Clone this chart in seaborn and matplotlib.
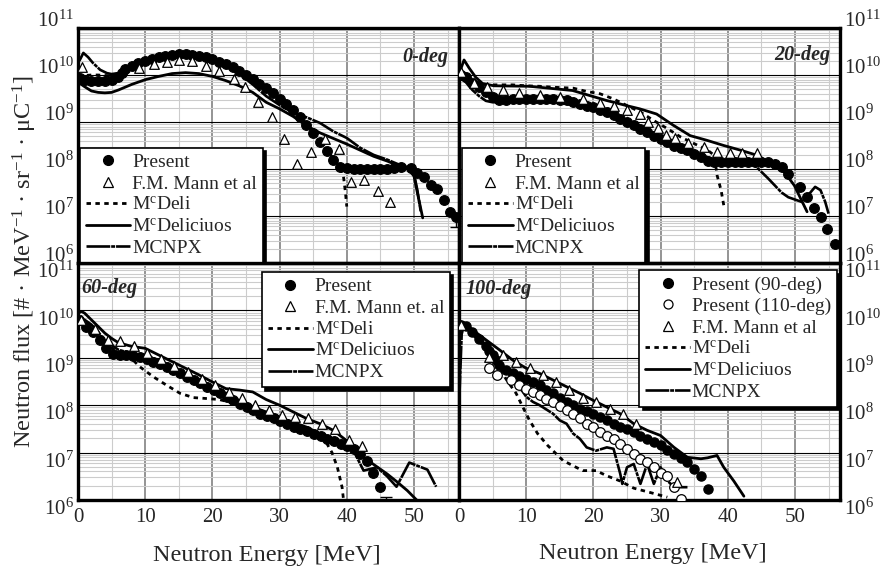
import numpy as np
import matplotlib
matplotlib.use("Agg")
import matplotlib.pyplot as plt
import seaborn as sns
from matplotlib.lines import Line2D
from matplotlib.ticker import MultipleLocator, LogLocator, LogFormatterMathtext, NullFormatter
from matplotlib.transforms import ScaledTranslation

# ---- 0-deg ----
p0_e = [0.3, 1, 2, 3, 4, 5, 6, 6.5, 7, 8, 9, 10, 11, 12, 13, 14, 15, 16, 17, 18, 19, 20, 21, 22, 23,
        24, 25, 26, 27, 28, 29, 30, 31, 32, 33, 34, 35, 36, 37, 38, 39, 40, 41, 42, 43, 44, 45, 46,
        47, 48, 49.5, 50.5, 51.5, 52.5, 53.4, 54.4, 55.4, 56.3]
p0_l = [9.93, 9.90, 9.88, 9.87, 9.87, 9.89, 9.95, 10.05, 10.12, 10.2, 10.26, 10.3, 10.34, 10.38, 10.41,
        10.43, 10.44, 10.44, 10.43, 10.41, 10.38, 10.34, 10.28, 10.23, 10.16, 10.09, 10.0, 9.92, 9.81,
        9.72, 9.61, 9.49, 9.39, 9.26, 9.11, 8.93, 8.76, 8.58, 8.38, 8.19, 8.05, 8.03, 8.01, 8.01, 8.0,
        8.0, 8.01, 8.0, 8.03, 8.05, 8.02, 7.91, 7.83, 7.66, 7.57, 7.34, 7.09, 6.98]
m0_e = [0.6, 9.1, 11.3, 13.3, 15.0, 17.0, 19.0, 21.0, 23.2, 24.9, 26.8, 28.8, 30.7, 32.6, 34.7, 36.8,
        38.9, 40.6, 42.5, 44.6, 46.5]
m0_l = [10.17, 10.15, 10.23, 10.27, 10.32, 10.30, 10.20, 10.09, 9.92, 9.74, 9.43, 9.10, 8.63, 8.10,
        8.36, 8.64, 8.42, 7.73, 7.76, 7.53, 7.30]
d0_e = [0, 1, 2, 3, 4, 5, 6, 7, 8, 10, 12, 14, 16, 18, 20, 22, 24, 26, 28, 30, 32, 34, 36, 38, 39,
        39.5, 39.8, 40.0]
d0_l = [9.98, 9.99, 10.0, 10.0, 9.99, 9.98, 10.02, 10.12, 10.2, 10.3, 10.38, 10.43, 10.45, 10.42, 10.35,
        10.24, 10.1, 9.92, 9.72, 9.5, 9.27, 8.95, 8.6, 8.22, 8.05, 7.85, 7.5, 7.2]
c0_e = [0, 1, 2, 3, 4, 5, 6, 7, 8, 10, 12, 14, 16, 18, 20, 22, 24, 26, 28, 30, 32, 34, 36, 38, 40,
        42, 44, 46, 48, 49, 50, 50.5, 51.3]
c0_l = [9.85, 9.75, 9.66, 9.63, 9.62, 9.63, 9.68, 9.74, 9.8, 9.9, 9.97, 10.03, 10.05, 10.03, 9.97,
        9.88, 9.77, 9.63, 9.42, 9.28, 9.12, 8.92, 8.77, 8.65, 8.53, 8.4, 8.27, 8.17, 8.05, 8.02, 7.85,
        7.5, 6.96]
n0_e = [0.2, 0.8, 1.5, 2.2, 3.3, 4.3, 5, 6, 7, 8, 10, 12, 14, 16, 18, 20, 22, 24, 26, 28, 30, 32,
        34, 36, 38, 40, 42, 44, 46, 48, 49, 50, 50.5, 51]
n0_l = [10.3, 10.47, 10.38, 10.26, 10.11, 10.04, 10.02, 10.04, 10.1, 10.16, 10.25, 10.33, 10.38, 10.39,
        10.36, 10.3, 10.18, 10.03, 9.8, 9.55, 9.36, 9.2, 9.1, 8.98, 8.8, 8.66, 8.45, 8.3, 8.2, 8.08,
        8.04, 7.9, 7.55, 7.1]

# ---- 20-deg ----
p20_e = [0.3, 1, 2, 3, 4, 5, 6, 7, 8, 9, 10, 11, 12, 13, 14, 15, 16, 17, 18, 19, 20, 21, 22, 23, 24,
         25, 26, 27, 28, 29, 30, 31, 32, 33, 34, 35, 36, 37, 38, 39, 40, 41, 42, 43, 44, 45, 46, 47,
         48, 49, 50.8, 51.8, 52.8, 53.8, 54.8, 56.0]
p20_l = [9.99, 9.95, 9.84, 9.74, 9.63, 9.53, 9.46, 9.47, 9.49, 9.5, 9.5, 9.5, 9.49, 9.49, 9.48, 9.47,
         9.46, 9.43, 9.39, 9.35, 9.31, 9.26, 9.21, 9.14, 9.07, 9.0, 8.93, 8.85, 8.78, 8.71, 8.64, 8.57,
         8.5, 8.45, 8.4, 8.32, 8.25, 8.18, 8.15, 8.15, 8.15, 8.15, 8.15, 8.15, 8.15, 8.15, 8.15, 8.11,
         8.04, 7.9, 7.62, 7.4, 7.18, 6.98, 6.72, 6.40]
m20_e = [0.3, 2.2, 4.2, 6.5, 9, 12, 15, 18.4, 21, 23, 25, 26.9, 28.2, 29.6, 30.8, 32.2, 34.1, 36.4,
         38.4, 40.4, 42.1, 44.3]
m20_l = [10.06, 9.83, 9.74, 9.69, 9.62, 9.58, 9.54, 9.49, 9.4, 9.33, 9.26, 9.17, 9.0, 8.87, 8.73, 8.66,
         8.56, 8.47, 8.36, 8.34, 8.33, 8.34]
d20_e = [0, 1, 2, 4, 6, 8, 10, 12, 14, 17, 19, 21, 23, 25, 27, 29, 31, 33, 35, 37, 38, 38.4, 39.0, 39.4]
d20_l = [9.99, 9.95, 9.88, 9.79, 9.79, 9.79, 9.77, 9.76, 9.74, 9.72, 9.65, 9.6, 9.49, 9.35, 9.21, 9.03,
         8.86, 8.68, 8.54, 8.4, 8.29, 7.87, 7.55, 7.23]
c20_e = [0.2, 0.75, 1.5, 2.5, 3.5, 5.2, 10.5, 16.9, 21.9, 24.9, 26.9, 29.4, 31.9, 34.4, 36.9, 39.4,
         41.9, 44.4, 46.9, 48.4, 49.9, 51.8]
c20_l = [10.1, 10.32, 10.15, 9.95, 9.82, 9.77, 9.76, 9.67, 9.46, 9.35, 9.28, 9.17, 8.93, 8.71, 8.61,
         8.5, 8.4, 8.29, 8.08, 7.94, 7.65, 7.09]
n20_e = [0, 1, 2, 3, 4, 5, 6, 8, 10, 14, 18, 22, 26, 30, 34, 36, 38, 40, 42, 43, 44, 45, 46, 47, 48,
         49, 50, 51, 52, 53, 53.8, 54.5, 55]
n20_l = [9.95, 9.85, 9.68, 9.55, 9.45, 9.42, 9.42, 9.44, 9.45, 9.42, 9.35, 9.2, 8.98, 8.7, 8.45, 8.3,
         8.2, 8.17, 8.15, 8.12, 8.08, 7.94, 7.8, 7.65, 7.5, 7.4, 7.35, 7.3, 7.45, 7.62, 7.55, 7.3, 7.05]

# ---- 60-deg ----
p60_e = [0.2, 1.2, 2.2, 3.2, 4.2, 5.2, 6.2, 7.2, 8.2, 9.2, 10.2, 11.2, 12.2, 13.2, 14.2, 15.2, 16.2,
         17.2, 18.2, 19.2, 20.2, 21.1, 22.1, 23.1, 24.1, 25.1, 26.1, 27.1, 28.1, 29.1, 30.1, 31.1,
         32.1, 33.1, 34.1, 35.1, 36.1, 37.1, 38.1, 39.1, 40, 41, 42, 43, 43.9, 44.9]
p60_l = [9.80, 9.66, 9.55, 9.38, 9.20, 9.09, 9.06, 9.06, 9.04, 9.02, 8.97, 8.92, 8.86, 8.81, 8.74,
         8.67, 8.6, 8.53, 8.46, 8.39, 8.32, 8.25, 8.17, 8.10, 8.03, 7.96, 7.89, 7.82, 7.77, 7.72, 7.66,
         7.61, 7.55, 7.50, 7.45, 7.40, 7.34, 7.29, 7.24, 7.19, 7.13, 7.08, 6.97, 6.83, 6.58, 6.27]
m60_e = [0.5, 2.5, 4.5, 6.3, 8.3, 10.3, 12.3, 14.3, 16.4, 18.4, 20.4, 22.4, 24.4, 26.4, 28.4, 30.3,
         32.3, 34.3, 36.3, 38.3, 40.3, 42.3]
m60_l = [9.80, 9.6, 9.38, 9.36, 9.25, 9.1, 8.97, 8.83, 8.71, 8.55, 8.42, 8.28, 8.15, 8.0, 7.9, 7.79,
         7.75, 7.72, 7.61, 7.50, 7.26, 7.13]
d60_e = [0, 2, 4, 6, 8, 9.2, 11.2, 13.2, 15.2, 17.2, 19.2, 21, 23, 25, 27, 29, 31, 33, 35, 36, 37,
         37.8, 38.6, 39.3, 39.6]
d60_l = [9.85, 9.6, 9.3, 9.12, 8.98, 8.81, 8.6, 8.42, 8.25, 8.16, 8.14, 8.12, 8.05, 7.95, 7.85, 7.73,
         7.62, 7.5, 7.4, 7.32, 7.2, 7.0, 6.69, 6.27, 5.9]
c60_e = [0, 0.5, 1, 2, 3, 4, 5, 6, 8, 10, 12, 14, 16, 18, 20, 22, 24, 26, 28, 30, 32, 34, 36, 38, 40,
         42, 44, 46, 47.5, 49, 50.4]
c60_l = [9.94, 9.98, 9.94, 9.8, 9.66, 9.52, 9.41, 9.32, 9.24, 9.2, 9.06, 8.92, 8.78, 8.64, 8.49, 8.35,
         8.32, 8.28, 8.12, 8.0, 7.86, 7.72, 7.61, 7.47, 7.25, 6.95, 6.75, 6.55, 6.38, 6.2, 6.0]
n60_e = [0, 1, 2, 3, 4, 5, 6, 8, 10, 12, 14, 16, 18, 20, 22, 24, 26, 28, 30, 32, 34, 36, 38, 40, 41,
         42.5, 44.5, 46, 47.4, 49.3, 52, 53.3]
n60_l = [9.84, 9.8, 9.7, 9.55, 9.35, 9.27, 9.17, 9.09, 9.06, 8.95, 8.81, 8.67, 8.53, 8.39, 8.25, 8.1,
         7.96, 7.86, 7.75, 7.64, 7.54, 7.4, 7.29, 7.19, 7.04, 6.62, 6.69, 6.5, 6.28, 6.79, 6.64, 6.28]

# ---- 100-deg ----
p90_e = [0.3, 1, 2, 3, 4, 4.5, 5, 5.5, 6, 7, 8, 9, 10, 11, 12, 13, 14, 15, 16, 17, 18, 19, 20, 21, 22,
         23, 24, 25, 26, 27, 28, 29, 30, 31, 32, 33, 34, 35, 36, 37]
p90_l = [9.7, 9.68, 9.55, 9.4, 9.25, 9.15, 9.05, 8.95, 8.85, 8.75, 8.67, 8.62, 8.56, 8.49, 8.42, 8.33,
         8.25, 8.16, 8.07, 8.0, 7.93, 7.88, 7.82, 7.75, 7.68, 7.61, 7.54, 7.49, 7.43, 7.36, 7.29, 7.22,
         7.15, 7.06, 6.97, 6.89, 6.8, 6.66, 6.51, 6.23]
p110_e = [4.5, 5.7, 7.7, 9, 10, 11, 12, 13, 14, 15, 16, 17, 18, 19, 20, 21, 22, 23, 24, 25, 26, 27,
          28, 29, 30, 31, 32, 33]
p110_l = [8.78, 8.64, 8.53, 8.42, 8.35, 8.28, 8.21, 8.14, 8.07, 7.98, 7.89, 7.82, 7.72, 7.61, 7.54,
          7.43, 7.36, 7.29, 7.19, 7.08, 6.97, 6.87, 6.80, 6.69, 6.58, 6.51, 6.27, 6.02]
m100_e = [0.25, 4.5, 6.5, 8.5, 10.5, 12.5, 14.5, 16.4, 18.4, 20.4, 22.4, 24.4, 26.4, 32.4]
m100_l = [9.70, 9.02, 9.06, 8.92, 8.78, 8.64, 8.49, 8.32, 8.16, 8.07, 7.93, 7.81, 7.61, 6.37]
d100_e = [0, 1, 2, 3, 4, 5, 6, 7, 8.5, 9.5, 10.5, 11.7, 13.2, 15.5, 18.4, 20.4, 22, 24, 26, 28.4, 31]
d100_l = [9.7, 9.65, 9.5, 9.35, 9.2, 9.0, 8.8, 8.55, 8.25, 7.96, 7.68, 7.40, 7.15, 6.83, 6.62, 6.62,
          6.51, 6.4, 6.25, 6.16, 6.06]
c100_e = [0.3, 0.8, 2, 4, 6, 8, 10, 12, 14, 16, 18, 20, 22, 24, 26, 28, 30, 32, 34, 36, 37, 38.4,
          39.4, 40.9, 42.4]
c100_l = [9.70, 9.73, 9.59, 9.38, 9.17, 8.95, 8.78, 8.67, 8.53, 8.39, 8.25, 8.1, 7.96, 7.82, 7.61,
          7.47, 7.36, 7.11, 6.9, 6.87, 6.89, 6.94, 6.69, 6.4, 6.08]
n100_e = [0.05, 0.4, 0.8, 2, 4, 6, 8, 9, 10, 11, 12, 14, 15, 16, 17, 18, 19, 20.4, 22, 23, 24, 24.3,
          25, 26, 27, 28, 29, 30, 31, 32, 34]
n100_l = [8.13, 9.5, 9.72, 9.55, 9.24, 8.95, 8.53, 8.39, 8.18, 8.07, 8.0, 7.82, 7.68, 7.61, 7.40,
          7.29, 7.11, 7.04, 7.11, 7.08, 6.55, 6.34, 6.69, 6.76, 6.34, 6.76, 6.34, 6.69, 6.41, 6.27, 6.27]

# error bars at the tails: (energy, log value, log lower end, log upper end)
err0 = [(56.3, 6.98, 6.76, 7.05)]
err60 = [(45.9, 5.95, 5.85, 6.06)]

tick_e = [0, 10, 20, 30, 40, 50]
tick_flux = [1e6, 1e7, 1e8, 1e9, 1e10, 1e11]

W, H = 883, 574
DELI = dict(color="black", linewidth=2.0, linestyle=(0, (1.6, 1.6)))
CIUOS = dict(color="black", linewidth=2.0, linestyle="-")
MCNPX = dict(color="black", linewidth=1.9, linestyle=(0, (9, 0.35, 1.5, 0.35)))


def flux(logs):
    return np.power(10.0, np.asarray(logs, dtype=float))


def rect(x0, y0, x1, y1):
    return [x0 / W, 1 - y1 / H, (x1 - x0) / W, (y1 - y0) / H]


def setup(ax, bottom, right, shift_px):
    ax.set_yscale("log")
    ax.set_xlim(0, 56.7)
    ax.set_ylim(1e6, 1e11)
    ax.xaxis.set_major_locator(MultipleLocator(10))
    ax.xaxis.set_minor_locator(MultipleLocator(5))
    ax.set_yticks(tick_flux)
    ax.yaxis.set_minor_locator(LogLocator(base=10, subs=np.arange(2, 10), numticks=30))
    ax.yaxis.set_major_formatter(LogFormatterMathtext())
    ax.yaxis.set_minor_formatter(NullFormatter())
    ax.grid(which="minor", axis="both", color="#cccccc", linewidth=0.8)
    ax.grid(which="major", axis="x", color="#777777", linewidth=1.1)
    ax.grid(which="major", axis="y", color="black", linewidth=0.8)
    ax.set_axisbelow(True)
    ax.tick_params(which="both", length=0, labelsize=15)
    ax.tick_params(axis="y", pad=3)
    ax.tick_params(axis="x", pad=6)
    if right:
        ax.yaxis.tick_right()
    if bottom:
        ax.set_xticks(tick_e)
    else:
        ax.tick_params(axis="x", labelbottom=False)
    for s in ax.spines.values():
        s.set_linewidth(2.4)
        s.set_color("black")
    # the decade labels sit a little off their grid lines in the original
    off = ScaledTranslation(0, shift_px / 100, fig.dpi_scale_trans)
    for t in ax.yaxis.get_major_ticks(len(tick_flux)):
        t.label1.set_transform(t.label1.get_transform() + off)
        t.label2.set_transform(t.label2.get_transform() + off)


def curve(ax, e, l, style):
    sns.lineplot(x=e, y=flux(l), ax=ax, sort=False, estimator=None, legend=False, zorder=3, **style)


def dots(ax, e, l, marker, face, size=48):
    sns.scatterplot(x=e, y=flux(l), ax=ax, marker=marker, s=size, color=face, edgecolor="black",
                    linewidth=0.9, legend=False, zorder=4)


def bars(ax, items):
    for e, v, lo, hi in items:
        ax.errorbar([e], [10 ** v], yerr=[[10 ** v - 10 ** lo], [10 ** hi - 10 ** v]], fmt="none",
                    ecolor="black", elinewidth=1.0, capsize=4, zorder=5)


def handles(kinds):
    out = []
    for k in kinds:
        if k == "fill":
            out.append(Line2D([], [], ls="none", marker="o", ms=7, mfc="black", mec="black"))
        elif k == "open":
            out.append(Line2D([], [], ls="none", marker="o", ms=6.5, mfc="white", mec="black", mew=0.9))
        elif k == "tri":
            out.append(Line2D([], [], ls="none", marker="^", ms=6.5, mfc="white", mec="black", mew=0.9))
        else:
            out.append(Line2D([], [], **k))
    return out


def legend(ax, labels, kinds, loc, anchor):
    lg = ax.legend(handles(kinds), labels, loc=loc, bbox_to_anchor=anchor, frameon=True,
                   fancybox=False, framealpha=1, edgecolor="black", borderaxespad=0,
                   borderpad=0.3, handlelength=2.3, handletextpad=0.1, labelspacing=0.2,
                   fontsize=14, shadow={"ox": 2.5, "oy": -2.5, "color": "black", "alpha": 1})
    lg.get_frame().set_linewidth(1.2)
    lg.set_zorder(10)


sns.set_theme(style="white")
plt.rcParams["font.family"] = ["Liberation Serif", "DejaVu Serif"]
plt.rcParams["mathtext.fontset"] = "custom"
plt.rcParams["mathtext.rm"] = "Liberation Serif"
plt.rcParams["mathtext.it"] = "Liberation Serif:italic"
plt.rcParams["mathtext.bf"] = "Liberation Serif:bold"

fig = plt.figure(figsize=(W / 100, H / 100), dpi=100)
fig.patch.set_facecolor("white")
ax_tl = fig.add_axes(rect(78, 28, 459, 263))
ax_tr = fig.add_axes(rect(459, 28, 840, 263))
ax_bl = fig.add_axes(rect(78, 263, 459, 500))
ax_br = fig.add_axes(rect(459, 263, 840, 500))

setup(ax_tl, bottom=False, right=False, shift_px=9)
setup(ax_tr, bottom=False, right=True, shift_px=9)
setup(ax_bl, bottom=True, right=False, shift_px=-7)
setup(ax_br, bottom=True, right=True, shift_px=-7)

mc_deli = "M$^\\mathrm{c}$Deli"
mc_ciuos = "M$^\\mathrm{c}$Deliciuos"
line_kinds = [DELI, CIUOS, MCNPX]

# 0-deg
curve(ax_tl, d0_e, d0_l, DELI)
curve(ax_tl, c0_e, c0_l, CIUOS)
curve(ax_tl, n0_e, n0_l, MCNPX)
dots(ax_tl, p0_e, p0_l, "o", "black")
dots(ax_tl, m0_e, m0_l, "^", "white")
bars(ax_tl, err0)
legend(ax_tl, ["Present", "F.M. Mann et al", mc_deli, mc_ciuos, "MCNPX"],
       ["fill", "tri"] + line_kinds, "lower left", (0.005, 0.0))
ax_tl.text(0.971, 0.875, "0-deg", transform=ax_tl.transAxes, ha="right", va="center",
           fontsize=14.5, fontweight="bold", fontstyle="italic")

# 20-deg
curve(ax_tr, d20_e, d20_l, DELI)
curve(ax_tr, c20_e, c20_l, CIUOS)
curve(ax_tr, n20_e, n20_l, MCNPX)
dots(ax_tr, p20_e, p20_l, "o", "black")
dots(ax_tr, m20_e, m20_l, "^", "white")
legend(ax_tr, ["Present", "F.M. Mann et al", mc_deli, mc_ciuos, "MCNPX"],
       ["fill", "tri"] + line_kinds, "lower left", (0.008, 0.0))
ax_tr.text(0.974, 0.885, "20-deg", transform=ax_tr.transAxes, ha="right", va="center",
           fontsize=14.5, fontweight="bold", fontstyle="italic")

# 60-deg
curve(ax_bl, d60_e, d60_l, DELI)
curve(ax_bl, c60_e, c60_l, CIUOS)
curve(ax_bl, n60_e, n60_l, MCNPX)
dots(ax_bl, p60_e, p60_l, "o", "black")
dots(ax_bl, m60_e, m60_l, "^", "white")
bars(ax_bl, err60)
legend(ax_bl, ["Present", "F.M. Mann et. al", mc_deli, mc_ciuos, "MCNPX"],
       ["fill", "tri"] + line_kinds, "upper right", (0.976, 0.962))
ax_bl.text(0.01, 0.894, "60-deg", transform=ax_bl.transAxes, ha="left", va="center",
           fontsize=14.5, fontweight="bold", fontstyle="italic")

# 100-deg
curve(ax_br, d100_e, d100_l, DELI)
curve(ax_br, c100_e, c100_l, CIUOS)
curve(ax_br, n100_e, n100_l, MCNPX)
dots(ax_br, p90_e, p90_l, "o", "black", size=44)
dots(ax_br, p110_e, p110_l, "o", "white", size=48)
dots(ax_br, m100_e, m100_l, "^", "white")
legend(ax_br, ["Present (90-deg)", "Present (110-deg)", "F.M. Mann et al", mc_deli, mc_ciuos, "MCNPX"],
       ["fill", "open", "tri"] + line_kinds, "upper right", (0.992, 0.97))
ax_br.text(0.016, 0.89, "100-deg", transform=ax_br.transAxes, ha="left", va="center",
           fontsize=14.5, fontweight="bold", fontstyle="italic")

fig.text(25 / W, 1 - 262 / H,
         "Neutron flux [# \u00b7 MeV$^{-1}$ \u00b7 sr$^{-1}$ \u00b7 \u03bcC$^{-1}$]",
         rotation=90, ha="center", va="center", fontsize=17.5)
fig.text(267 / W, 1 - 555 / H, "Neutron Energy [MeV]", ha="center", va="center", fontsize=17.5)
fig.text(653 / W, 1 - 553 / H, "Neutron Energy [MeV]", ha="center", va="center", fontsize=17.5)

fig.savefig("out.png", dpi=100)
